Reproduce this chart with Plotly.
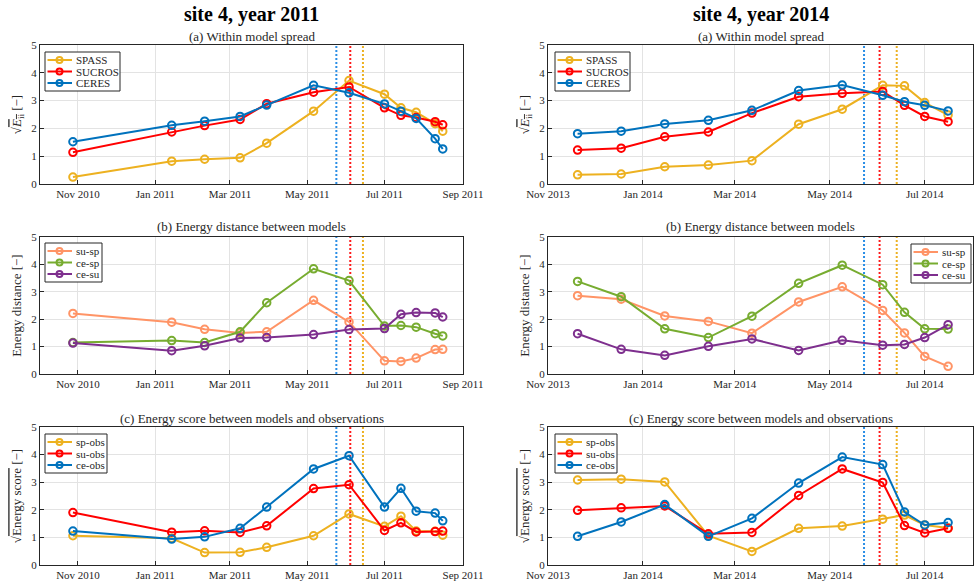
import plotly.graph_objects as go

# ---- sampling dates -------------------------------------------------------
dates_2011 = ["2010-10-28", "2011-01-14", "2011-02-09", "2011-03-09", "2011-03-30",
              "2011-05-06", "2011-06-03", "2011-07-01", "2011-07-14", "2011-07-26",
              "2011-08-10", "2011-08-16"]
dates_2014 = ["2013-11-20", "2013-12-18", "2014-01-15", "2014-02-12", "2014-03-12",
              "2014-04-11", "2014-05-09", "2014-06-04", "2014-06-18", "2014-07-01",
              "2014-07-16"]

# phenology markers (CERES, SUCROS, SPASS)
events_2011 = ["2011-05-24", "2011-06-04", "2011-06-14"]
events_2014 = ["2014-05-23", "2014-06-02", "2014-06-13"]
event_colors = ["#2a8ee6", "#ff1a1a", "#edb120"]

# ---- (a) within model spread ---------------------------------------------
spass_2011 = [0.25, 0.82, 0.89, 0.94, 1.47, 2.62, 3.72, 3.23, 2.74, 2.58, 2.17, 1.90]
sucros_2011 = [1.14, 1.87, 2.10, 2.32, 2.89, 3.30, 3.49, 2.74, 2.47, 2.39, 2.24, 2.13]
ceres_2011 = [1.52, 2.11, 2.26, 2.43, 2.84, 3.55, 3.28, 2.88, 2.62, 2.36, 1.63, 1.26]

spass_2014 = [0.33, 0.36, 0.62, 0.68, 0.84, 2.15, 2.69, 3.55, 3.53, 2.93, 2.48]
sucros_2014 = [1.22, 1.29, 1.70, 1.87, 2.55, 3.14, 3.26, 3.33, 2.83, 2.43, 2.24]
ceres_2014 = [1.81, 1.90, 2.16, 2.29, 2.65, 3.36, 3.56, 3.19, 2.96, 2.83, 2.63]

# ---- (b) energy distance between models ----------------------------------
su_sp_2011 = [2.21, 1.89, 1.63, 1.50, 1.54, 2.69, 1.90, 0.48, 0.46, 0.58, 0.89, 0.90]
ce_sp_2011 = [1.15, 1.22, 1.15, 1.54, 2.60, 3.84, 3.41, 1.75, 1.77, 1.71, 1.47, 1.39]
ce_su_2011 = [1.13, 0.85, 1.03, 1.31, 1.33, 1.44, 1.62, 1.66, 2.18, 2.24, 2.23, 2.08]

su_sp_2014 = [2.86, 2.73, 2.12, 1.92, 1.49, 2.63, 3.18, 2.32, 1.50, 0.64, 0.28]
ce_sp_2014 = [3.38, 2.82, 1.65, 1.33, 2.11, 3.31, 3.97, 3.26, 2.25, 1.65, 1.64]
ce_su_2014 = [1.47, 0.90, 0.68, 1.01, 1.28, 0.86, 1.23, 1.05, 1.08, 1.33, 1.80]

# ---- (c) energy score between models and observations --------------------
sp_obs_2011 = [1.06, 0.97, 0.45, 0.46, 0.64, 1.06, 1.85, 1.40, 1.77, 1.23, 1.22, 1.08]
su_obs_2011 = [1.90, 1.19, 1.24, 1.18, 1.42, 2.77, 2.91, 1.25, 1.53, 1.20, 1.21, 1.23]
ce_obs_2011 = [1.23, 0.94, 1.02, 1.33, 2.10, 3.48, 3.96, 2.10, 2.78, 1.95, 1.88, 1.60]

sp_obs_2014 = [3.08, 3.11, 3.01, 1.06, 0.49, 1.33, 1.41, 1.66, 1.81, 1.45, 1.34]
su_obs_2014 = [1.98, 2.07, 2.14, 1.13, 1.18, 2.52, 3.48, 2.99, 1.43, 1.16, 1.33]
ce_obs_2014 = [1.04, 1.56, 2.19, 1.04, 1.69, 2.97, 3.91, 3.64, 1.92, 1.45, 1.54]

C_SP, C_SU, C_CE = "#edb120", "#ff0000", "#0072bd"
C_SUSP, C_CESP, C_CESU = "#ff9466", "#77ac30", "#7e2f8e"

FONT = "Liberation Serif, Times New Roman, serif"
INK = "#262626"
W, H = 978, 585


def px_x(a, b):
    return [a / W, b / W]


def px_y(top, bottom):
    return [1 - bottom / H, 1 - top / H]


col_dom = [px_x(40, 463), px_x(548, 973)]
row_dom = [px_y(45, 184), px_y(237, 374), px_y(427, 565)]

sqrt_e = "√<span style='text-decoration:overline'><i>E</i><sub>ii</sub></span> [−]"
sqrt_es = "√<span style='text-decoration:overline'>Energy score</span> [−]"
ylabels = [sqrt_e, "Energy distance [−]", sqrt_es]
subtitles = ["(a) Within model spread", "(b) Energy distance between models",
             "(c) Energy score between models and observations"]

panels = [
    # (row, col, dates, events, [(name, values, color), ...])
    (0, 0, dates_2011, events_2011, [("SPASS", spass_2011, C_SP), ("SUCROS", sucros_2011, C_SU), ("CERES", ceres_2011, C_CE)]),
    (0, 1, dates_2014, events_2014, [("SPASS", spass_2014, C_SP), ("SUCROS", sucros_2014, C_SU), ("CERES", ceres_2014, C_CE)]),
    (1, 0, dates_2011, events_2011, [("su-sp", su_sp_2011, C_SUSP), ("ce-sp", ce_sp_2011, C_CESP), ("ce-su", ce_su_2011, C_CESU)]),
    (1, 1, dates_2014, events_2014, [("su-sp", su_sp_2014, C_SUSP), ("ce-sp", ce_sp_2014, C_CESP), ("ce-su", ce_su_2014, C_CESU)]),
    (2, 0, dates_2011, events_2011, [("sp-obs", sp_obs_2011, C_SP), ("su-obs", su_obs_2011, C_SU), ("ce-obs", ce_obs_2011, C_CE)]),
    (2, 1, dates_2014, events_2014, [("sp-obs", sp_obs_2014, C_SP), ("su-obs", su_obs_2014, C_SU), ("ce-obs", ce_obs_2014, C_CE)]),
]

# legend box (left, top, width) in pixels
legend_box = {
    (0, 0): (45, 52, 75), (0, 1): (555, 52, 75),
    (1, 0): (45, 243, 57), (1, 1): (911, 244, 60),
    (2, 0): (45, 434, 62), (2, 1): (555, 434, 62),
}

xranges = [["2010-10-02", "2011-09-01"], ["2013-11-01", "2014-08-01"]]
tick0 = ["2010-11-01", "2013-11-01"]

fig = go.Figure()
layout = {}
shapes = []
annotations = []

for i, (r, c, dates, events, series) in enumerate(panels):
    k = i + 1
    xa = "x" if k == 1 else f"x{k}"
    ya = "y" if k == 1 else f"y{k}"

    for ev, ec in zip(events, event_colors):
        fig.add_trace(go.Scatter(x=[ev, ev], y=[0, 5], mode="lines", xaxis=xa, yaxis=ya,
                                 line=dict(color=ec, width=2, dash="2px,2px"),
                                 showlegend=False, hoverinfo="skip"))
    for name, vals, col in series:
        fig.add_trace(go.Scatter(x=dates, y=vals, name=name, mode="lines+markers",
                                 xaxis=xa, yaxis=ya, showlegend=False,
                                 line=dict(color=col, width=2),
                                 marker=dict(symbol="circle-open", size=7.5, color=col,
                                             line=dict(width=2, color=col))))

    axis_common = dict(showline=True, mirror=True, linecolor=INK, linewidth=1,
                       ticks="inside", ticklen=4, tickcolor=INK, automargin=False,
                       showgrid=True, gridcolor="#e3e3e3", gridwidth=1, zeroline=False,
                       tickfont=dict(family=FONT, size=11, color=INK))
    layout["xaxis" if k == 1 else f"xaxis{k}"] = dict(
        axis_common, domain=col_dom[c], anchor=ya, type="date",
        range=xranges[c], tick0=tick0[c], dtick="M2", tickformat="%b %Y")
    layout["yaxis" if k == 1 else f"yaxis{k}"] = dict(
        axis_common, domain=row_dom[r], anchor=xa, range=[0, 5], dtick=1,
        title=dict(text=ylabels[r], font=dict(family=FONT, size=13, color=INK), standoff=6))

    # compact boxed legend in the corner of the panel
    L, T, BW = legend_box[(r, c)]
    shapes.append(dict(type="rect", xref="paper", yref="paper",
                       x0=L / W, x1=(L + BW) / W, y0=1 - (T + 39) / H, y1=1 - T / H,
                       line=dict(color=INK, width=1), fillcolor="white", layer="above"))
    for j, (name, _, col) in enumerate(series):
        yc = T + 8 + 11.5 * j
        shapes.append(dict(type="line", xref="paper", yref="paper",
                           x0=(L + 2.5) / W, x1=(L + 27) / W, y0=1 - yc / H, y1=1 - yc / H,
                           line=dict(color=col, width=2), layer="above"))
        shapes.append(dict(type="circle", xref="paper", yref="paper",
                           x0=(L + 11.5) / W, x1=(L + 17.5) / W,
                           y0=1 - (yc + 3) / H, y1=1 - (yc - 3) / H,
                           line=dict(color=col, width=2), fillcolor="rgba(0,0,0,0)", layer="above"))
        annotations.append(dict(text=name, x=(L + 29) / W, y=1 - yc / H, xref="paper", yref="paper",
                                showarrow=False, xanchor="left", yanchor="middle",
                                font=dict(family=FONT, size=11, color=INK)))

for c, label in enumerate(["site 4, year 2011", "site 4, year 2014"]):
    cx = (col_dom[c][0] + col_dom[c][1]) / 2
    annotations.append(dict(text=f"<b>{label}</b>", x=cx, y=1 - 14 / H, xref="paper", yref="paper",
                            showarrow=False, xanchor="center", yanchor="middle",
                            font=dict(family=FONT, size=20, color="black")))
    for st, ty in zip(subtitles, [36, 227, 418]):
        annotations.append(dict(text=st, x=cx, y=1 - ty / H, xref="paper", yref="paper",
                                showarrow=False, xanchor="center", yanchor="middle",
                                font=dict(family=FONT, size=13, color=INK)))

fig.update_layout(width=W, height=H, margin=dict(l=0, r=0, t=0, b=0),
                  paper_bgcolor="white", plot_bgcolor="white", showlegend=False,
                  font=dict(family=FONT, color=INK),
                  shapes=shapes, annotations=annotations, **layout)

fig.write_html("out.html")
